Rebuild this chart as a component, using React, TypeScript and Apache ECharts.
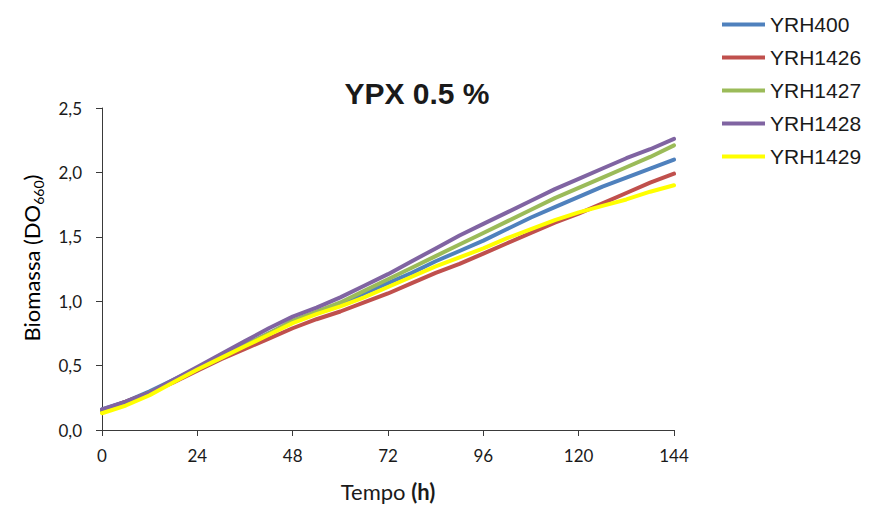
import React, { useEffect, useRef } from "react";
import * as echarts from "echarts";

const hours = [0, 6, 12, 18, 24, 30, 36, 42, 48, 54, 60, 66, 72, 78, 84, 90, 96, 102, 108, 114, 120, 126, 132, 138, 144];
const xTicks = [0, 24, 48, 72, 96, 120, 144];

const yrh400 = [0.16, 0.22, 0.3, 0.39, 0.48, 0.57, 0.66, 0.75, 0.84, 0.91, 0.98, 1.06, 1.14, 1.22, 1.31, 1.39, 1.47, 1.56, 1.65, 1.73, 1.81, 1.89, 1.96, 2.03, 2.1];
const yrh1426 = [0.15, 0.22, 0.29, 0.37, 0.46, 0.55, 0.63, 0.71, 0.79, 0.86, 0.92, 0.99, 1.06, 1.14, 1.22, 1.29, 1.37, 1.45, 1.53, 1.61, 1.68, 1.76, 1.84, 1.92, 1.99];
const yrh1427 = [0.15, 0.21, 0.29, 0.38, 0.47, 0.56, 0.66, 0.75, 0.85, 0.92, 0.99, 1.08, 1.17, 1.26, 1.35, 1.44, 1.53, 1.62, 1.71, 1.8, 1.88, 1.96, 2.04, 2.12, 2.21];
const yrh1428 = [0.16, 0.22, 0.29, 0.39, 0.49, 0.59, 0.69, 0.79, 0.88, 0.95, 1.03, 1.12, 1.21, 1.31, 1.41, 1.51, 1.6, 1.69, 1.78, 1.87, 1.95, 2.03, 2.11, 2.18, 2.26];
const yrh1429 = [0.13, 0.19, 0.27, 0.37, 0.47, 0.56, 0.65, 0.74, 0.83, 0.9, 0.96, 1.03, 1.11, 1.19, 1.27, 1.34, 1.41, 1.49, 1.56, 1.63, 1.69, 1.74, 1.79, 1.85, 1.9];

const seriesNames = ["YRH400", "YRH1426", "YRH1427", "YRH1428", "YRH1429"];
const seriesValues = [yrh400, yrh1426, yrh1427, yrh1428, yrh1429];
const seriesColors = ["#4F81BD", "#C0504D", "#9BBB59", "#8064A2", "#FFFF00"];

export default function App() {
  const ref = useRef<HTMLDivElement>(null);
  useEffect(() => {
    if (!ref.current) return;
    const chart = echarts.init(ref.current, null, { renderer: "svg" });
    const axisColor = "#3a3a3a";
    const tickFont = "Lato, 'Open Sans', sans-serif";
    chart.setOption({
      animation: false,
      backgroundColor: "#ffffff",
      title: {
        text: "YPX 0.5 %",
        left: 412,
        top: 73,
        textAlign: "center",
        textStyle: {
          fontFamily: "'Liberation Sans', Arial, sans-serif",
          fontWeight: "bold",
          fontSize: 30,
          color: "#1a1a1a",
        },
      },
      legend: {
        orient: "vertical",
        left: 717,
        top: 3,
        itemWidth: 43,
        itemHeight: 14,
        itemGap: 0,
        icon: "path://M0,6 L43,6 L43,10 L0,10 Z",
        textStyle: {
          fontFamily: "'Liberation Sans', Arial, sans-serif",
          fontSize: 21,
          lineHeight: 33,
          color: "#1a1a1a",
        },
        data: seriesNames.map((n, i) => ({ name: n, itemStyle: { color: seriesColors[i] } })),
      },
      grid: { left: 102, right: 201, top: 108, bottom: 79 },
      xAxis: {
        type: "value",
        min: 0,
        max: 144,
        interval: 24,
        name: "{a|Tempo }{b|(h)}",
        nameLocation: "middle",
        nameGap: 50,
        nameTextStyle: {
          rich: {
            a: { fontFamily: tickFont, fontSize: 22, color: "#1a1a1a" },
            b: { fontFamily: tickFont, fontSize: 22, fontWeight: "bold", color: "#1a1a1a" },
          },
        },
        axisLine: { show: true, lineStyle: { color: axisColor, width: 1 } },
        axisTick: { show: true, length: 6, lineStyle: { color: axisColor } },
        splitLine: { show: false },
        axisLabel: {
          margin: 17,
          fontFamily: tickFont,
          fontSize: 17,
          color: "#1a1a1a",
          formatter: (v: number) => (xTicks.includes(v) ? String(v) : ""),
        },
      },
      yAxis: {
        type: "value",
        min: 0,
        max: 2.5,
        interval: 0.5,
        axisLine: { show: true, lineStyle: { color: axisColor, width: 1 } },
        axisTick: { show: true, length: 6, lineStyle: { color: axisColor } },
        splitLine: { show: false },
        axisLabel: {
          margin: 20,
          fontFamily: tickFont,
          fontSize: 17,
          color: "#1a1a1a",
          formatter: (v: number) => v.toFixed(1).replace(".", ","),
        },
      },
      graphic: [
        {
          type: "text",
          x: 31,
          y: 258,
          rotation: Math.PI / 2,
          style: {
            text: "{a|Biomassa (DO}{s|660}{a|)}",
            align: "center",
            verticalAlign: "middle",
            rich: {
              a: { fontFamily: tickFont, fontSize: 22, color: "#1a1a1a", lineHeight: 28, verticalAlign: "middle" },
              s: { fontFamily: tickFont, fontSize: 14, color: "#1a1a1a", lineHeight: 28, verticalAlign: "bottom" },
            },
          },
        },
      ],
      series: seriesNames.map((name, i) => ({
        name,
        type: "line",
        data: hours.map((h, j) => [h, seriesValues[i][j]]),
        showSymbol: false,
        symbol: "none",
        color: seriesColors[i],
        lineStyle: { width: 4, color: seriesColors[i], cap: "round", join: "round" },
        z: 2 + i,
      })),
    });
    return () => chart.dispose();
  }, []);
  return (
    <div
      ref={ref}
      style={{ position: "absolute", left: 0, top: 0, width: 875, height: 509 }}
    />
  );
}
